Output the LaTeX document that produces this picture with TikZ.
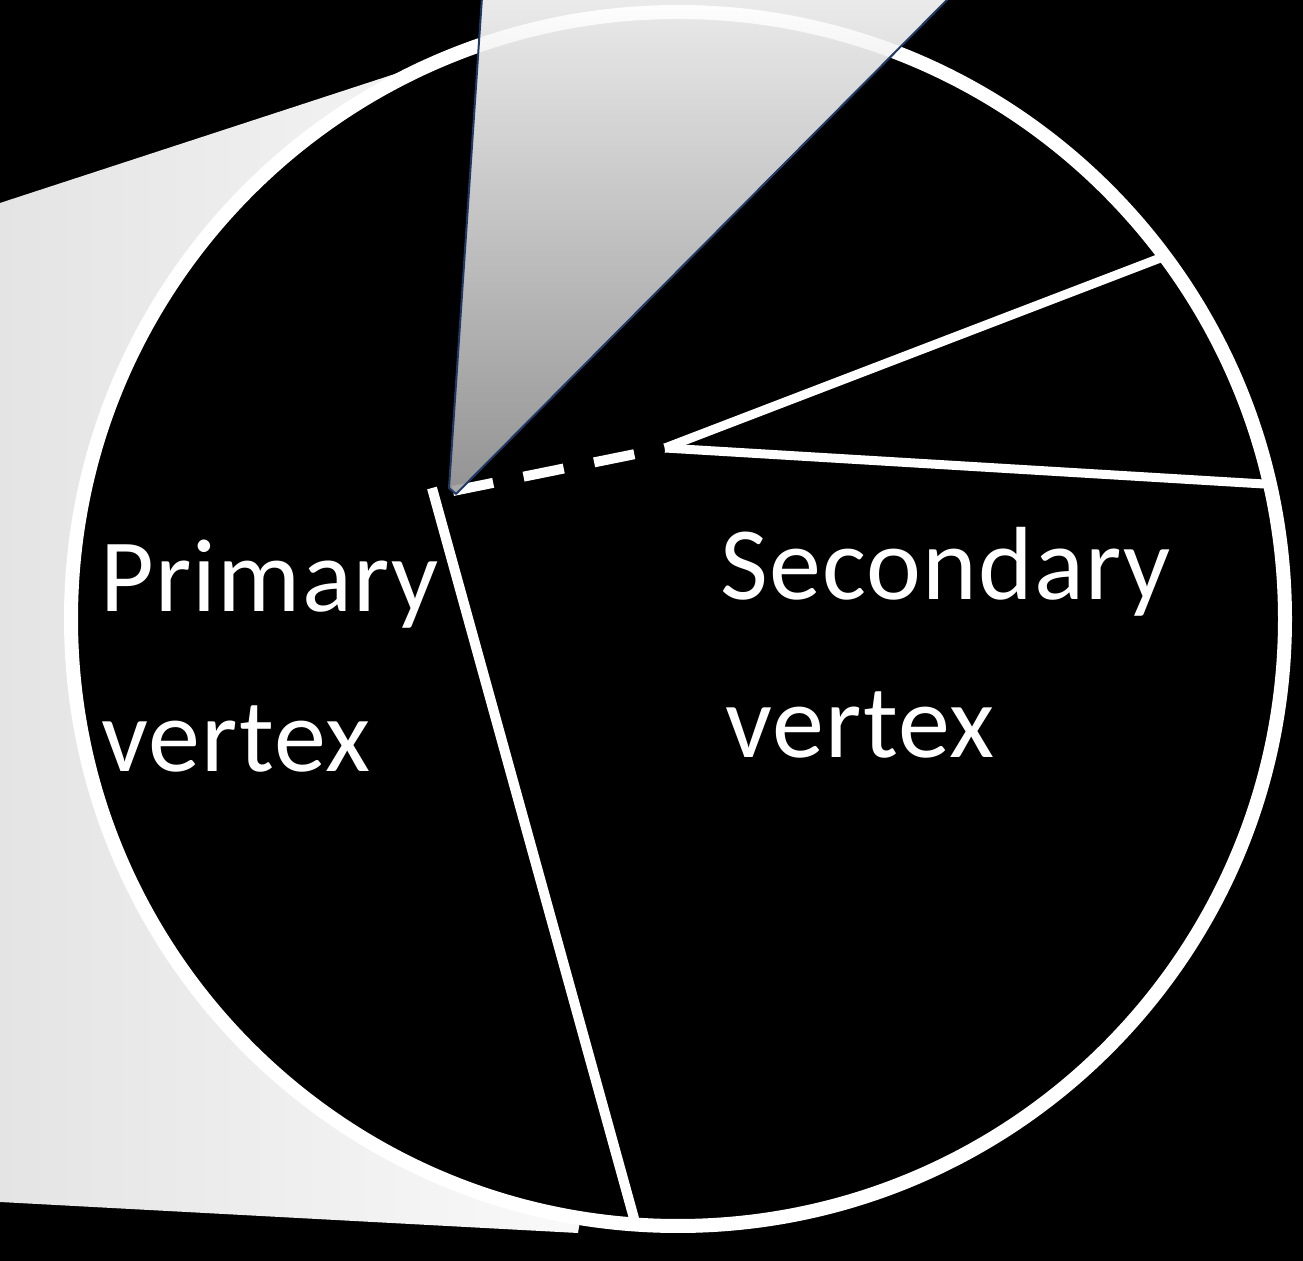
\documentclass[tikz,border=0pt]{standalone}
\usepackage{fontspec}
\setmainfont{Carlito}[LetterSpace=1.2]
\definecolor{jetline}{RGB}{31,56,100}
\definecolor{jettop}{RGB}{255,255,255}
\definecolor{jetbot}{RGB}{160,160,160}
\definecolor{coneleft}{RGB}{228,228,228}
\definecolor{coneright}{RGB}{253,253,253}
\tikzset{
  track/.style={white, line width=5pt},
  thintrack/.style={white, line width=4.5pt},
  missing/.style={white, line width=5pt, dash pattern=on 20.5pt off 15.5pt},
  label/.style={white, inner sep=0pt, anchor=base west, align=left,
    font=\fontsize{52}{80}\selectfont},
}
\begin{document}
\begin{tikzpicture}[x=0.5pt, y=-0.5pt]
\useasboundingbox (0,0) rectangle (1303,1261);
\fill[black] (0,0) rectangle (1303,1261);
% light cone behind the circle
\shade[left color=coneleft, right color=coneright]
  (0,203) -- (505,38) -- (678,619) -- (578,1233) -- (0,1202) -- cycle;
% detector circle
\coordinate (c) at (678,619);
\draw[white, line width=7pt, fill=black] (c) circle[radius=303.5pt];
% coordinates
\coordinate (pv) at (432,488);
\coordinate (pvend) at (635,1222);
\coordinate (apex) at (453,491);
\coordinate (sv) at (665,448);
\coordinate (up) at (1163,257);
\coordinate (low) at (1264,484);
% tracks
\draw[track, line cap=butt] (pv) -- (pvend);
\draw[missing] (apex) -- (sv);
\draw[thintrack] (sv) -- (up);
\draw[thintrack] (sv) -- (low);
% jet cone
\coordinate (j1) at (449,488);
\coordinate (j2) at (482,-3);
\coordinate (j3) at (950,-3);
\coordinate (j4) at (456,494);
\shade[top color=jettop, bottom color=jetbot, opacity=0.92]
  (j1) -- (j2) -- (j3) -- (j4) -- cycle;
\draw[jetline, line width=1pt, line join=round] (j2) -- (j1) -- (j4) -- (j3);
% labels
\node[label] (prim) at (100,612) {Primary};
\node[label] (primv) at (101,772) {vertex};
\node[label] (sec) at (720,600) {Secondary};
\node[label] (secv) at (725,758) {vertex};
\end{tikzpicture}
\end{document}
